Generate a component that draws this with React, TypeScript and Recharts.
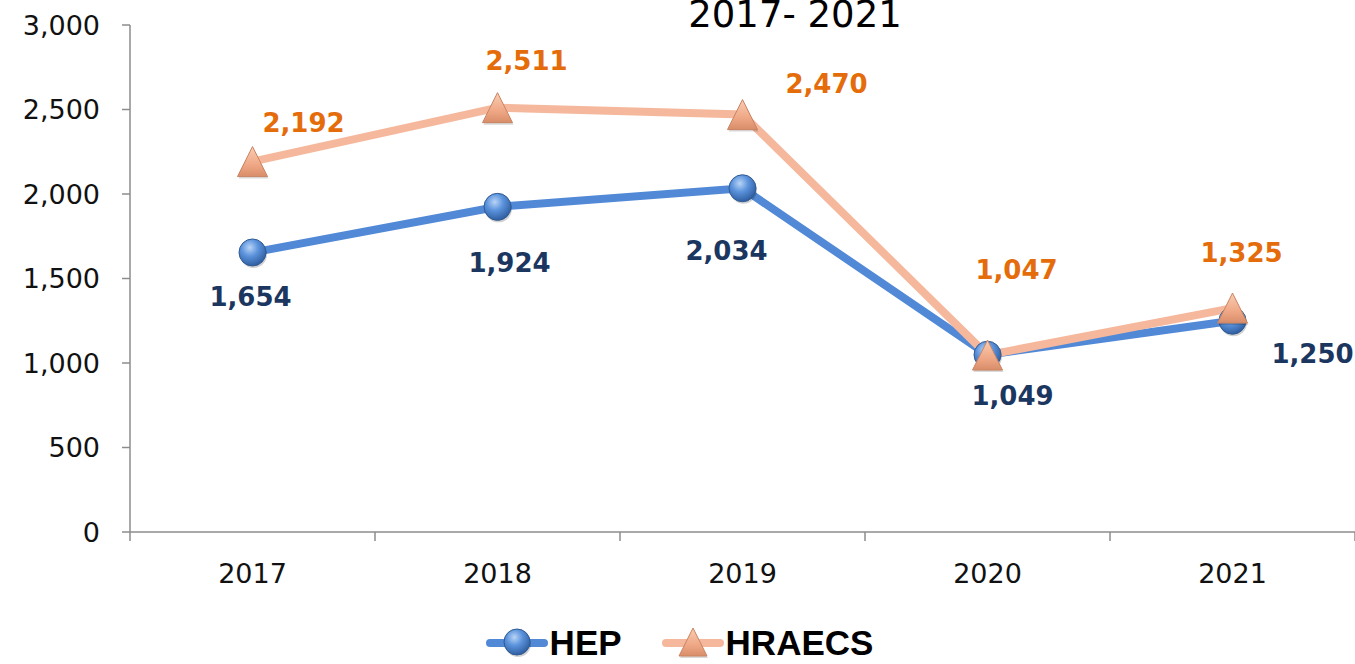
import React from "react";
import { LineChart, Line, XAxis, YAxis, LabelList, Legend } from "recharts";

const years = ["2017", "2018", "2019", "2020", "2021"];
const hepValues = [1654, 1924, 2034, 1049, 1250];
const hraecsValues = [2192, 2511, 2470, 1047, 1325];
const yTicks = [0, 500, 1000, 1500, 2000, 2500, 3000];

// label offsets (style only): [dx, dy] relative to each point
const hepLabelOffsets = [
  [-2, 45],
  [12, 56],
  [-16, 63],
  [25, 41],
  [80, 33],
];
const hraecsLabelOffsets = [
  [51, -39],
  [29, -47],
  [84, -31],
  [29, -85],
  [9, -55],
];

const data = years.map((y, i) => ({ year: y, HEP: hepValues[i], HRAECS: hraecsValues[i] }));

const BLUE = "#5189D6";
const PEACH = "#F5B89C";
const ORANGE = "#E46C0A";
const NAVY = "#1B365F";
const AXIS = "#8C8C8C";
const NUM_FONT = "'DejaVu Sans', sans-serif";

const fmt = (v: number) => v.toLocaleString("en-US");

const Sphere = ({ cx, cy, r = 13.5 }: any) => (
  <g>
    <defs>
      <radialGradient id="sphereGrad" cx="40%" cy="32%" r="70%">
        <stop offset="0%" stopColor="#B9D4F6" />
        <stop offset="45%" stopColor="#5B93DC" />
        <stop offset="100%" stopColor="#2E5C9E" />
      </radialGradient>
    </defs>
    <circle cx={cx + 1} cy={cy + 2} r={r} fill="rgba(0,0,0,0.18)" />
    <circle cx={cx} cy={cy} r={r} fill="url(#sphereGrad)" stroke="#2F5A94" strokeWidth={1} />
  </g>
);

const Tri = ({ cx, cy, s = 15 }: any) => (
  <g>
    <defs>
      <linearGradient id="triGrad" x1="0" y1="0" x2="0" y2="1">
        <stop offset="0%" stopColor="#F9CDB3" />
        <stop offset="60%" stopColor="#EFA886" />
        <stop offset="100%" stopColor="#D98D69" />
      </linearGradient>
    </defs>
    <polygon
      points={`${cx + 1},${cy - s + 2} ${cx + s + 1},${cy + s + 2} ${cx - s + 1},${cy + s + 2}`}
      fill="rgba(0,0,0,0.15)"
    />
    <polygon
      points={`${cx},${cy - s} ${cx + s},${cy + s} ${cx - s},${cy + s}`}
      fill="url(#triGrad)"
      stroke="#C98463"
      strokeWidth={1}
      strokeLinejoin="round"
    />
  </g>
);

const HepDot = (props: any) => <Sphere key={`hd-${props.index}`} cx={props.cx} cy={props.cy} />;
const TriDot = (props: any) => <Tri key={`td-${props.index}`} cx={props.cx} cy={props.cy} />;

const makeLabel = (offsets: number[][], color: string) => (props: any) => {
  const { x, y, value, index } = props;
  const o = offsets[index] || [0, 0];
  return (
    <text
      x={x + o[0]}
      y={y + o[1]}
      textAnchor="middle"
      dominantBaseline="central"
      fill={color}
      fontFamily={NUM_FONT}
      fontWeight="bold"
      fontSize={26}
    >
      {fmt(Number(value))}
    </text>
  );
};

const XTick = (props: any) => {
  const { x, y, payload, index } = props;
  const half = payload && payload.offset ? payload.offset : 122.5;
  return (
    <g>
      <line x1={x - half} y1={y} x2={x - half} y2={y + 9} stroke={AXIS} strokeWidth={1.5} />
      {index === years.length - 1 && (
        <line x1={x + half} y1={y} x2={x + half} y2={y + 9} stroke={AXIS} strokeWidth={1.5} />
      )}
      <text
        x={x}
        y={y + 41}
        textAnchor="middle"
        dominantBaseline="central"
        fill="#111"
        fontFamily={NUM_FONT}
        fontSize={27}
      >
        {payload.value}
      </text>
    </g>
  );
};

const LegendContent = () => (
  <div
    style={{
      height: 72,
      boxSizing: "border-box",
      paddingTop: 30,
      display: "flex",
      justifyContent: "center",
      alignItems: "center",
      fontFamily: "'Liberation Sans', Arial, sans-serif",
      fontWeight: "bold",
      fontSize: 35,
      color: "#000",
    }}
  >
    <div style={{ display: "flex", alignItems: "center", marginLeft: 4 }}>
      <svg width={62} height={34}>
        <line x1={4} y1={17} x2={58} y2={17} stroke={BLUE} strokeWidth={8} strokeLinecap="round" />
        <Sphere cx={31} cy={16} r={13} />
      </svg>
      <span style={{ marginLeft: 2 }}>HEP</span>
    </div>
    <div style={{ display: "flex", alignItems: "center", marginLeft: 40 }}>
      <svg width={62} height={34}>
        <line x1={4} y1={17} x2={58} y2={17} stroke={PEACH} strokeWidth={8} strokeLinecap="round" />
        <Tri cx={31} cy={16} s={14} />
      </svg>
      <span style={{ marginLeft: 2 }}>HRAECS</span>
    </div>
  </div>
);

export default function App() {
  return (
    <div style={{ position: "absolute", left: 0, top: 0, width: 1355, height: 664, background: "#fff", overflow: "hidden" }}>
      <LineChart
        width={1355}
        height={664}
        data={data}
        margin={{ top: 25, right: 0, left: 0, bottom: 0 }}
      >
        <XAxis
          dataKey="year"
          scale="band"
          height={60}
          axisLine={{ stroke: AXIS, strokeWidth: 1.5 }}
          tickLine={false}
          tickSize={0}
          tickMargin={0}
          tick={<XTick />}
          interval={0}
        />
        <YAxis
          width={130}
          domain={[0, 3000]}
          ticks={yTicks}
          interval={0}
          axisLine={{ stroke: AXIS, strokeWidth: 1.5 }}
          tickLine={{ stroke: AXIS, strokeWidth: 1.5 }}
          tickSize={8}
          tickMargin={22}
          tickFormatter={fmt}
          tick={{ fill: "#111", fontFamily: NUM_FONT, fontSize: 27 }}
        />
        <Legend verticalAlign="bottom" height={72} content={<LegendContent />} />
        <Line
          type="linear"
          dataKey="HEP"
          stroke={BLUE}
          strokeWidth={8}
          dot={HepDot}
          activeDot={false}
          isAnimationActive={false}
        >
          <LabelList dataKey="HEP" content={makeLabel(hepLabelOffsets, NAVY)} />
        </Line>
        <Line
          type="linear"
          dataKey="HRAECS"
          stroke={PEACH}
          strokeWidth={8}
          dot={TriDot}
          activeDot={false}
          isAnimationActive={false}
        >
          <LabelList dataKey="HRAECS" content={makeLabel(hraecsLabelOffsets, ORANGE)} />
        </Line>
      </LineChart>
      <div
        style={{
          position: "absolute",
          left: 0,
          width: 1590,
          top: 0,
          textAlign: "center",
          fontFamily: NUM_FONT,
          fontSize: 37,
          lineHeight: "30px",
          color: "#000",
          whiteSpace: "pre",
        }}
      >
        2017- 2021
      </div>
    </div>
  );
}
